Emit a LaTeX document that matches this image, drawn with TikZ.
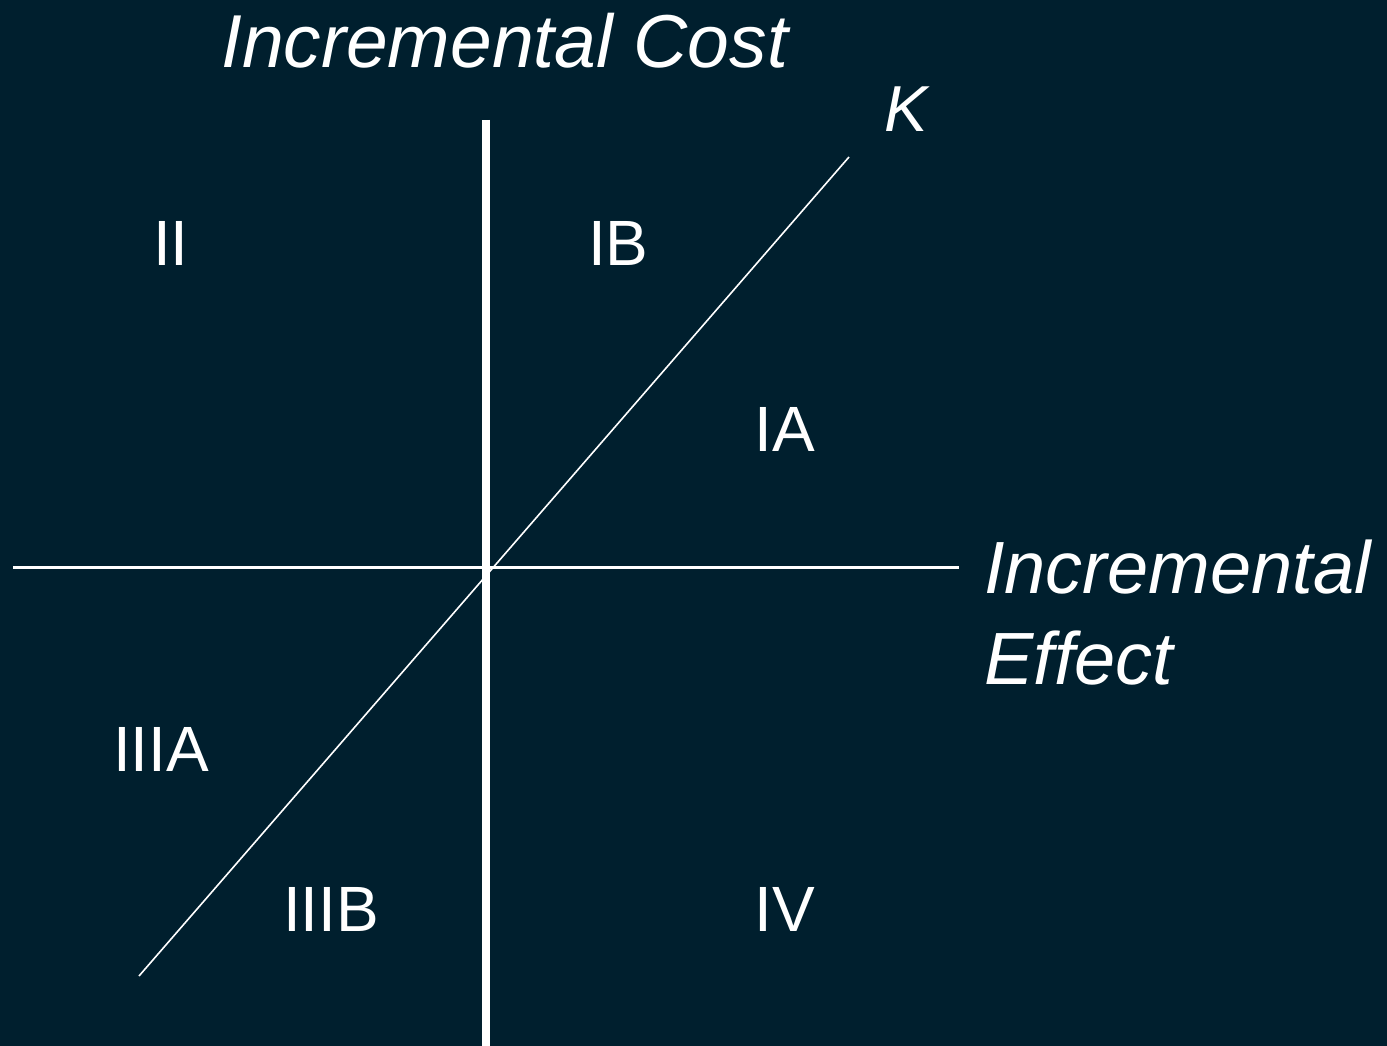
\documentclass[tikz,border=0pt]{standalone}
\usepackage{fontspec}
\setmainfont{Liberation Sans}
\definecolor{bgnavy}{RGB}{0,31,46}
\begin{document}
\begin{tikzpicture}[x=1pt,y=-1pt,
  region/.style={text=white,inner sep=0pt,anchor=base west,font=\fontsize{64}{77}\selectfont},
  axislabel/.style={text=white,inner sep=0pt,anchor=base west,font=\fontsize{74}{91}\selectfont\itshape},
  axisline/.style={draw=white,line cap=butt}]
\fill[bgnavy] (0,0) rectangle (1387,1046);
\useasboundingbox (0,0) rectangle (1387,1046);
% axes
\coordinate (vtop) at (486,120);
\coordinate (vbot) at (486,1046);
\coordinate (hleft) at (13,567.5);
\coordinate (hright) at (959,567.5);
\coordinate (klow) at (139,976);
\coordinate (khigh) at (849,157);
\draw[axisline,line width=7.5pt] (vtop) -- (vbot);
\draw[axisline,line width=3pt] (hleft) -- (hright);
\draw[axisline,line width=1.6pt] (klow) -- (khigh);
% labels
\node[axislabel,font=\fontsize{75}{91}\selectfont\itshape] (ycost) at (221,68) {Incremental Cost};
\node[axislabel] (xeff1) at (984,593) {Incremental};
\node[axislabel] (xeff2) at (984,684) {Effect};
\node[region,font=\fontsize{65}{78}\selectfont\itshape] (k) at (884,132) {K};
\node[region] (r2) at (153,265) {II};
\node[region] (r1b) at (588,265) {IB};
\node[region] (r1a) at (754,451) {IA};
\node[region] (r3a) at (113,771) {IIIA};
\node[region] (r3b) at (283,931) {IIIB};
\node[region] (r4) at (754,931) {IV};
\end{tikzpicture}
\end{document}
